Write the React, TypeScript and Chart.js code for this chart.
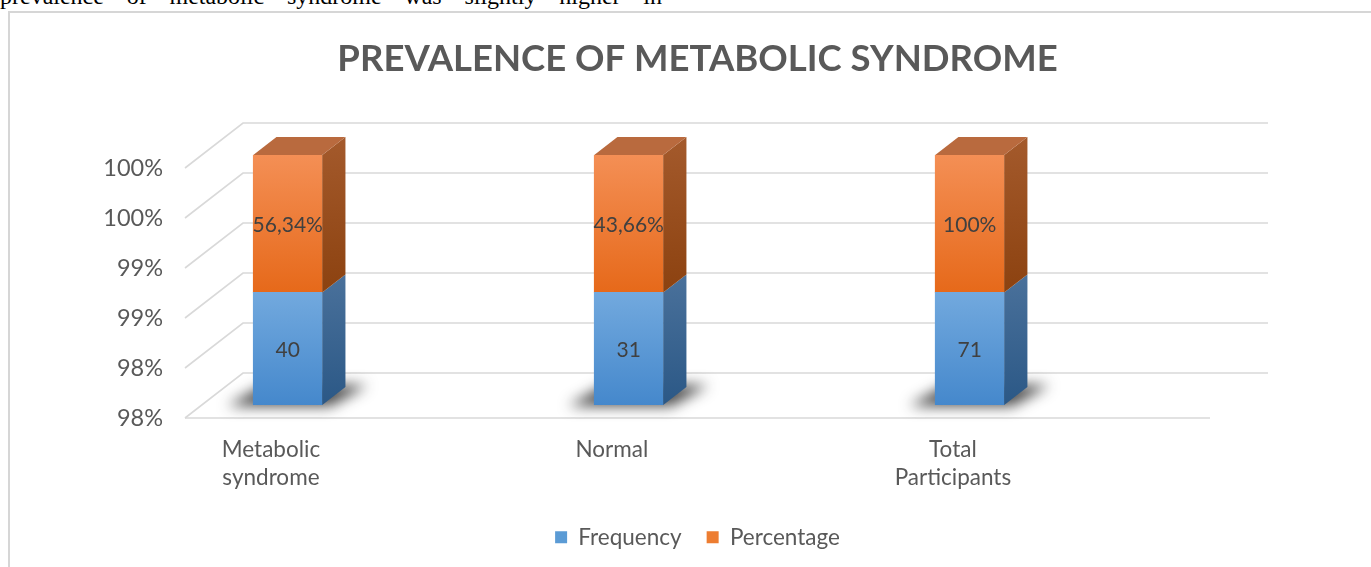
import React, { useEffect, useRef } from 'react';
import { Chart, registerables } from 'chart.js';

Chart.register(...registerables);

// ---------- data ----------
const categories: string[][] = [['Metabolic', 'syndrome'], ['Normal'], ['Total', 'Participants']];
const seriesNames = ['Frequency', 'Percentage'];
const frequencyLabels = ['40', '31', '71'];
const percentageLabels = ['56,34%', '43,66%', '100%'];
// segment heights on the value axis
const frequencyHeight = [98.9, 98.9, 98.9];
const percentageHeight = [1.1, 1.1, 1.1];
const yTickValues = [98, 98.4, 98.8, 99.2, 99.6, 100];
const yTickLabels = ['98%', '98%', '99%', '99%', '100%', '100%'];

// ---------- style ----------
const FONT = 'Lato';
const TEXT = '#595959';
const GRID = '#d9d9d9';
const WALL_DX = 58;
const WALL_DY = -45;
const BAR_POS = 0.29; // bar front plane depth fraction
const BAR_DEPTH = 0.4;

const palette = [
  { frontTop: '#72a9de', frontBot: '#4588cc', sideTop: '#4a719b', sideBot: '#2b5886', legend: '#5b9bd5' },
  { frontTop: '#f48f55', frontBot: '#e6691a', sideTop: '#a45a2c', sideBot: '#8c4210', top: '#b96a3e', legend: '#ed7d31' },
];

const segLabels = [frequencyLabels, percentageLabels];

function segmentBounds(chart: any, dsIndex: number, i: number) {
  const y = chart.scales.y;
  const area = chart.chartArea;
  const low = dsIndex === 0 ? null : frequencyHeight[i];
  const high = dsIndex === 0 ? frequencyHeight[i] : frequencyHeight[i] + percentageHeight[i];
  const top = y.getPixelForValue(high);
  const bottom = low === null ? area.bottom : y.getPixelForValue(low);
  return { top, bottom: Math.min(bottom, area.bottom) };
}

function frontFill(dsIndex: number) {
  return (c: any) => {
    const chart = c.chart;
    const p = palette[dsIndex];
    if (!chart.chartArea || c.type !== 'data' || !chart.scales.y) return p.legend;
    const { top, bottom } = segmentBounds(chart, dsIndex, c.dataIndex);
    const g = chart.ctx.createLinearGradient(0, top, 0, bottom);
    g.addColorStop(0, p.frontTop);
    g.addColorStop(1, p.frontBot);
    return g;
  };
}

const excel3d = {
  id: 'excel3d',
  beforeDatasetsDraw(chart: any) {
    const { ctx, chartArea: a, scales } = chart;
    const y = scales.y;
    ctx.save();
    ctx.strokeStyle = GRID;
    ctx.lineWidth = 1.6;
    y.ticks.forEach((t: any) => {
      const py = y.getPixelForValue(t.value);
      ctx.beginPath();
      ctx.moveTo(a.left, py);
      ctx.lineTo(a.left + WALL_DX, py + WALL_DY);
      ctx.lineTo(a.right + WALL_DX, py + WALL_DY);
      ctx.stroke();
    });
    ctx.beginPath();
    ctx.moveTo(a.left, a.bottom);
    ctx.lineTo(a.right, a.bottom);
    ctx.stroke();
    ctx.restore();

    ctx.save();
    ctx.translate(WALL_DX * BAR_POS, WALL_DY * BAR_POS);
    // floor shadows
    const bdx = WALL_DX * BAR_DEPTH;
    const bdy = WALL_DY * BAR_DEPTH;
    const meta = chart.getDatasetMeta(0);
    meta.data.forEach((el: any) => {
      const xl = el.x - el.width / 2;
      const xr = el.x + el.width / 2;
      const yb = a.bottom;
      ctx.save();
      ctx.filter = 'blur(7px)';
      ctx.fillStyle = 'rgba(25,25,25,0.8)';
      ctx.beginPath();
      ctx.moveTo(xl - 26, yb + 1);
      ctx.lineTo(xr + 8, yb + 1);
      ctx.lineTo(xr + bdx + 22, yb + bdy - 2);
      ctx.lineTo(xl + bdx - 12, yb + bdy - 2);
      ctx.closePath();
      ctx.fill();
      ctx.restore();
    });
  },
  afterDatasetsDraw(chart: any) {
    const { ctx } = chart;
    const bdx = WALL_DX * BAR_DEPTH;
    const bdy = WALL_DY * BAR_DEPTH;
    const n = chart.data.datasets.length;
    for (let d = 0; d < n; d++) {
      const meta = chart.getDatasetMeta(d);
      const p: any = palette[d];
      meta.data.forEach((el: any, i: number) => {
        const { top, bottom } = segmentBounds(chart, d, i);
        const xl = el.x - el.width / 2;
        const xr = el.x + el.width / 2;
        const g = ctx.createLinearGradient(0, top + bdy, 0, bottom);
        g.addColorStop(0, p.sideTop);
        g.addColorStop(1, p.sideBot);
        ctx.fillStyle = g;
        ctx.beginPath();
        ctx.moveTo(xr, top);
        ctx.lineTo(xr + bdx, top + bdy);
        ctx.lineTo(xr + bdx, bottom + bdy);
        ctx.lineTo(xr, bottom);
        ctx.closePath();
        ctx.fill();
        if (d === n - 1) {
          ctx.fillStyle = p.top;
          ctx.beginPath();
          ctx.moveTo(xl, top);
          ctx.lineTo(xr, top);
          ctx.lineTo(xr + bdx, top + bdy);
          ctx.lineTo(xl + bdx, top + bdy);
          ctx.closePath();
          ctx.fill();
        }
        ctx.fillStyle = '#404040';
        ctx.font = `21px ${FONT}`;
        ctx.textAlign = 'center';
        ctx.textBaseline = 'middle';
        ctx.fillText(segLabels[d][i], el.x, (top + bottom) / 2 + 2);
      });
    }
    ctx.restore();
  },
};

export default function App() {
  const ref = useRef<HTMLCanvasElement | null>(null);
  useEffect(() => {
    if (!ref.current) return;
    const chart = new Chart(ref.current, {
      type: 'bar',
      data: {
        datasets: [
          {
            label: seriesNames[0],
            data: frequencyHeight.map((v, i) => ({ x: i, y: v })),
            backgroundColor: frontFill(0),
            barThickness: 69,
          },
          {
            label: seriesNames[1],
            data: percentageHeight.map((v, i) => ({ x: i, y: v })),
            backgroundColor: frontFill(1),
            barThickness: 69,
          },
        ],
      },
      options: {
        responsive: false,
        animation: false,
        layout: { padding: { left: 0, right: 161, top: 0, bottom: 8.5 } },
        scales: {
          x: {
            type: 'linear',
            min: -0.252,
            max: 2.754,
            stacked: true,
            offset: false,
            afterBuildTicks: (s: any) => {
              s.ticks = categories.map((_, i) => ({ value: i }));
            },
            afterFit: (s: any) => {
              s.height = 83;
            },
            grid: { display: false, drawTicks: false },
            border: { display: false },
            ticks: {
              padding: 18,
              autoSkip: false,
              maxRotation: 0,
              color: TEXT,
              font: { family: FONT, size: 22.5, lineHeight: 1.244 },
              callback: (_v: any, i: number) => categories[i],
            },
          },
          y: {
            min: 98,
            max: 100,
            stacked: true,
            afterBuildTicks: (s: any) => {
              s.ticks = yTickValues.map((v) => ({ value: v }));
            },
            afterFit: (s: any) => {
              s.width = 185;
            },
            grid: { display: false, drawTicks: false },
            border: { display: false },
            ticks: {
              padding: 22,
              color: TEXT,
              font: { family: FONT, size: 23.5 },
              callback: (_v: any, i: number) => yTickLabels[i],
            },
          },
        },
        plugins: {
          title: {
            display: true,
            fullSize: false,
            text: 'PREVALENCE OF METABOLIC SYNDROME',
            color: TEXT,
            font: { family: FONT, size: 36.5, weight: 'bold', lineHeight: 1.2 },
            padding: { top: 37, bottom: 87.2 },
          },
          legend: {
            position: 'bottom',
            fullSize: false,
            labels: {
              color: TEXT,
              font: { family: FONT, size: 22.5 },
              boxWidth: 12,
              boxHeight: 12,
              padding: 25,
              generateLabels: (chart: any) =>
                chart.data.datasets.map((ds: any, i: number) => ({
                  text: ds.label,
                  fillStyle: palette[i].legend,
                  strokeStyle: 'rgba(0,0,0,0)',
                  lineWidth: 0,
                  fontColor: TEXT,
                  hidden: false,
                  datasetIndex: i,
                })),
            },
          },
          tooltip: { enabled: false },
        },
      },
      plugins: [excel3d],
    } as any);
    return () => chart.destroy();
  }, []);

  return (
    <div style={{ position: 'absolute', left: 0, top: 0, width: 1371, height: 567, overflow: 'hidden', background: '#fff' }}>
      <div
        style={{
          position: 'absolute',
          left: 0,
          top: -16,
          width: 662,
          fontFamily: '"Liberation Serif", "Times New Roman", serif',
          fontSize: 24,
          lineHeight: '24px',
          color: '#000',
          whiteSpace: 'nowrap',
        }}
      >
        <span style={{ display: 'inline-block', width: 662, textAlign: 'justify', textAlignLast: 'justify' as any, whiteSpace: 'normal' }}>
          prevalence of metabolic syndrome was slightly higher in
        </span>
      </div>
      <div
        style={{
          position: 'absolute',
          left: 8,
          top: 11,
          width: 1400,
          height: 600,
          borderLeft: '2px solid #d6d6d6',
          borderTop: '2px solid #d6d6d6',
        }}
      />
      <canvas ref={ref} width={1371} height={567} style={{ position: 'absolute', left: 0, top: 0, width: 1371, height: 567 }} />
    </div>
  );
}
